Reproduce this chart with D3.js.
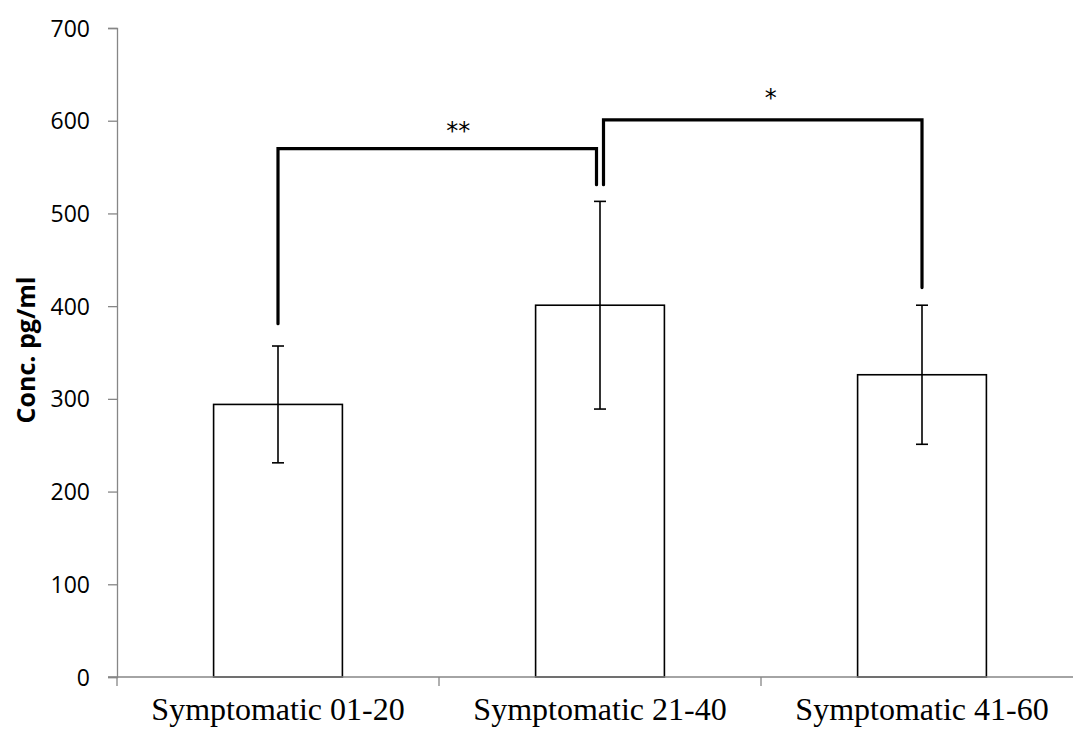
<!DOCTYPE html>
<html>
<head>
<meta charset="utf-8">
<script src="https://cdn.jsdelivr.net/npm/d3@7"></script>
<style>
  body { margin: 0; background: #fff; }
</style>
</head>
<body>
<svg width="1073" height="731"></svg>
<script>
const categories = ["Symptomatic 01-20", "Symptomatic 21-40", "Symptomatic 41-60"]
const means = [294, 401, 326]
const errLow = [231, 289, 251]
const errHigh = [357, 513, 401]
const yTicks = [0, 100, 200, 300, 400, 500, 600, 700]

// significance brackets (values on the y scale)
const brackets = [
  { from: 0, to: 1, top: 570, leftEnd: 381, rightEnd: 531, label: "**" },
  { from: 1, to: 2, top: 601, leftEnd: 531, rightEnd: 420, label: "*" }
]
// label nudges, px
const labelShift = [[21, -10], [8, -14]]

const svg = d3.select("svg")
const x0 = 117, yBase = 677

const xScale = d3.scaleBand()
  .domain(categories)
  .range([x0, 1083])
  .paddingInner(0.6)
  .paddingOuter(0.3)

const band = d3.scaleBand().domain(categories).range([x0, 1083])

const yScale = d3.scaleLinear()
  .domain([0, 700])
  .range([yBase, 28])

const cx = i => band(categories[i]) + band.bandwidth() / 2

// bars
svg.selectAll("rect.bar").data(means).enter().append("rect")
  .attr("class", "bar")
  .attr("x", (d, i) => xScale(categories[i]))
  .attr("y", d => yScale(d))
  .attr("width", xScale.bandwidth())
  .attr("height", d => yBase - yScale(d))
  .attr("fill", "#fff")
  .attr("stroke", "#000")
  .attr("stroke-width", 1.6)

// error bars
means.forEach((m, i) => {
  const g = svg.append("g").attr("stroke", "#000").attr("stroke-width", 1.6)
  g.append("line").attr("x1", cx(i)).attr("x2", cx(i))
    .attr("y1", yScale(errLow[i])).attr("y2", yScale(errHigh[i]))
  ;[errLow[i], errHigh[i]].forEach(v => {
    g.append("line").attr("x1", cx(i) - 6).attr("x2", cx(i) + 6)
      .attr("y1", yScale(v)).attr("y2", yScale(v))
  })
})

// y axis
const yAxis = svg.append("g")
  .attr("transform", "translate(" + x0 + ",0)")
  .call(d3.axisLeft(yScale).tickValues(yTicks).tickSize(9).tickPadding(18))
yAxis.select(".domain").attr("stroke", "#868686").attr("stroke-width", 1.3)
yAxis.selectAll(".tick line").attr("stroke", "#868686").attr("stroke-width", 1.3)
yAxis.selectAll(".tick text")
  .style("font-family", "'Open Sans', sans-serif")
  .style("font-size", "23px")
  .attr("fill", "#000")
  .attr("dy", "0.35em")

// x axis
const xAxis = svg.append("g").attr("transform", "translate(0," + yBase + ")")
xAxis.append("line").attr("x1", 108).attr("x2", 1073).attr("y1", 0).attr("y2", 0)
  .attr("stroke", "#868686").attr("stroke-width", 1.3)
const tickXs = [x0].concat(categories.slice(1).map(c => band(c)))
tickXs.forEach(tx => {
  xAxis.append("line").attr("x1", tx).attr("x2", tx).attr("y1", 0).attr("y2", 9)
    .attr("stroke", "#868686").attr("stroke-width", 1.3)
})
categories.forEach((c, i) => {
  xAxis.append("text")
    .attr("x", cx(i)).attr("y", 43)
    .attr("text-anchor", "middle")
    .style("font-family", "'Liberation Serif', serif")
    .style("font-size", "32px")
    .text(c)
})

// y label
svg.append("text")
  .attr("transform", "translate(35,350) rotate(-90)")
  .attr("text-anchor", "middle")
  .style("font-family", "'Open Sans', sans-serif")
  .style("font-weight", "bold")
  .style("font-size", "25px")
  .text("Conc. pg/ml")

// significance brackets
brackets.forEach((b, k) => {
  const xl = cx(b.from) + (b.from === 1 ? 3.5 : 0)
  const xr = cx(b.to) - (b.to === 1 ? 3.5 : 0)
  const path = d3.path()
  path.moveTo(xl, yScale(b.leftEnd))
  path.lineTo(xl, yScale(b.top))
  path.lineTo(xr, yScale(b.top))
  path.lineTo(xr, yScale(b.rightEnd))
  svg.append("path").attr("d", path.toString())
    .attr("fill", "none").attr("stroke", "#000")
    .attr("stroke-width", 3.2)
    .attr("stroke-linecap", "round")
    .attr("stroke-linejoin", "miter")
  svg.append("text")
    .attr("x", (xl + xr) / 2 + labelShift[k][0])
    .attr("y", yScale(b.top) + labelShift[k][1])
    .attr("text-anchor", "middle")
    .style("font-family", "'DejaVu Sans', sans-serif")
    .style("font-size", "24px")
    .text(b.label)
})
</script>
</body>
</html>
